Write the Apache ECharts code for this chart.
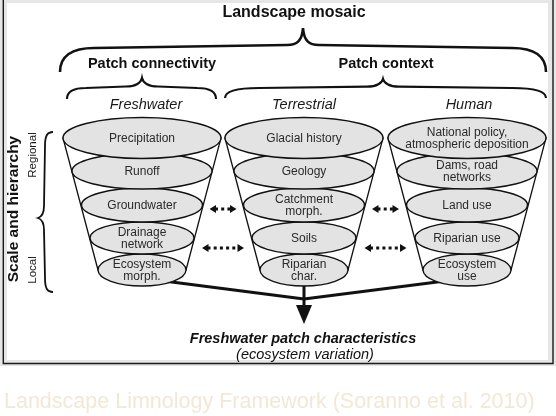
<!DOCTYPE html>
<html>
<head>
<meta charset="utf-8">
<script src="https://cdn.jsdelivr.net/npm/echarts@6/dist/echarts.min.js"></script>
<style>
html,body{margin:0;padding:0;background:#ffffff;}
#c{width:556px;height:416px;}
</style>
</head>
<body>
<div id="c"></div>
<script>
// ---------------- data ----------------
const titleText = 'Landscape mosaic';
const groupNames = ['Patch connectivity', 'Patch context'];
const groupSpans = [[0, 0], [1, 2]];
const columnNames = ['Freshwater', 'Terrestrial', 'Human'];
const freshwaterLayers = ['Precipitation', 'Runoff', 'Groundwater', 'Drainage\nnetwork', 'Ecosystem\nmorph.'];
const terrestrialLayers = ['Glacial history', 'Geology', 'Catchment\nmorph.', 'Soils', 'Riparian\nchar.'];
const humanLayers = ['National policy,\natmospheric deposition', 'Dams, road\nnetworks', 'Land use', 'Riparian use', 'Ecosystem\nuse'];
const scaleAxisLabel = 'Scale and hierarchy';
const scaleLevels = ['Regional', 'Local'];
const linkRows = [[0, 1, 2], [1, 2, 2], [0, 1, 3], [1, 2, 3]]; // from column, to column, layer row
const outcomeTitle = 'Freshwater patch characteristics';
const outcomeSubtitle = '(ecosystem variation)';
const captionText = 'Landscape Limnology Framework (Soranno et al. 2010)';

// ---------------- layout / style ----------------
const FONT = "'Liberation Sans', Arial, Helvetica, sans-serif";
const INK = '#111111';
const G = {
  coneX: [142, 304, 467],
  colLabelX: [146, 304, 469],
  colLabelY: 105,
  layerY: [138, 171, 205, 238, 270],
  layerRx: [79, 70, 60.5, 52, 44],
  layerRy: [20.5, 18, 17, 16, 16],
  mergeY: 299,
  headBase: 305,
  headTip: 324,
  rowArrowY: {2: 209, 3: 248},
  rowArrowHalf: {2: 13.5, 3: 21},
  outcomeY: [339, 355],
  braces: [
    {x1: 60, x2: 546, xa: 303, yEnd: 72, yBar: 48, yApex: 28, lx: 294, ly: 13, fs: 16, lw: 2.6},
    {x1: 67, x2: 216, xa: 142, yEnd: 99, yBar: 88, yApex: 78, lx: 152, ly: 64, fs: 14.5, lw: 2.2},
    {x1: 225, x2: 546, xa: 383, yEnd: 98, yBar: 88, yApex: 79, lx: 386, ly: 64, fs: 14.5, lw: 2.2}
  ],
  vBrace: {y1: 132, y2: 292, ya: 218, xEnd: 53, xBar: 45, xApex: 38},
  scaleLabelPos: [[33, 155], [33, 270]],
  scaleTitlePos: [14, 209]
};
const layerSets = [freshwaterLayers, terrestrialLayers, humanLayers];

const layerData = [];
columnNames.forEach(function (c, ci) {
  for (let li = layerSets[ci].length - 1; li >= 0; li--) {
    layerData.push({name: layerSets[ci][li], value: [ci, li]});
  }
});
const braceData = [{name: titleText, value: [0, 0, 2]}].concat(
  groupNames.map(function (g, i) { return {name: g, value: [i + 1, groupSpans[i][0], groupSpans[i][1]]}; })
);

function hBracePath(b, p) {
  const c = Math.min(34, (b.xa - b.x1) * 0.25);
  const yb2 = b.yBar - (b.yBar - b.yApex) * 0.15;
  const x1 = p(b.x1), x2 = p(b.x2), xa = p(b.xa);
  return 'M' + x1 + ' ' + b.yEnd +
    ' C' + x1 + ' ' + (b.yBar + (b.yEnd - b.yBar) * 0.35) + ' ' + (x1 + c * 0.35) + ' ' + b.yBar + ' ' + (x1 + c) + ' ' + b.yBar +
    ' L' + (xa - 16) + ' ' + yb2 +
    ' C' + (xa - 6) + ' ' + yb2 + ' ' + (xa - 1) + ' ' + (yb2 - 4) + ' ' + xa + ' ' + b.yApex +
    ' C' + (xa + 1) + ' ' + (yb2 - 4) + ' ' + (xa + 6) + ' ' + yb2 + ' ' + (xa + 16) + ' ' + yb2 +
    ' L' + (x2 - c) + ' ' + b.yBar +
    ' C' + (x2 - c * 0.35) + ' ' + b.yBar + ' ' + x2 + ' ' + (b.yBar + (b.yEnd - b.yBar) * 0.35) + ' ' + x2 + ' ' + b.yEnd;
}

function vBracePath(v) {
  const c = 14, xb2 = v.xBar - 1;
  return 'M' + v.xEnd + ' ' + v.y1 +
    ' C' + (v.xBar + 2) + ' ' + v.y1 + ' ' + v.xBar + ' ' + (v.y1 + 4) + ' ' + v.xBar + ' ' + (v.y1 + c) +
    ' L' + xb2 + ' ' + (v.ya - 12) +
    ' C' + xb2 + ' ' + (v.ya - 4) + ' ' + (v.xApex + 3) + ' ' + (v.ya - 1) + ' ' + v.xApex + ' ' + v.ya +
    ' C' + (v.xApex + 3) + ' ' + (v.ya + 1) + ' ' + xb2 + ' ' + (v.ya + 4) + ' ' + xb2 + ' ' + (v.ya + 12) +
    ' L' + v.xBar + ' ' + (v.y2 - c) +
    ' C' + v.xBar + ' ' + (v.y2 - 4) + ' ' + (v.xBar + 2) + ' ' + v.y2 + ' ' + v.xEnd + ' ' + v.y2;
}

function txt(x, y, text, o) {
  return {
    type: 'text', x: x, y: y, rotation: o.rotation || 0, z2: 50,
    style: {
      text: text, align: 'center', verticalAlign: 'middle',
      fontSize: o.fs, fontWeight: o.fw || 'normal', fontStyle: o.fst || 'normal',
      fontFamily: FONT, fill: o.fill || INK, lineHeight: o.lh || o.fs
    }
  };
}

const chart = echarts.init(document.getElementById('c'), null, {renderer: 'canvas'});

const option = {
  animation: false,
  title: {
    text: captionText, left: 4, top: 391, padding: 0,
    textStyle: {color: '#f2e8d6', fontSize: 21.5, fontWeight: 'normal', fontFamily: FONT}
  },
  grid: {left: 0, right: 0, top: 0, bottom: 0},
  xAxis: {type: 'value', min: 0, max: 556, show: false},
  yAxis: {type: 'value', min: 0, max: 416, inverse: true, show: false},
  graphic: [
    {type: 'rect', z: -10, shape: {x: 0, y: 0, width: 556, height: 366}, style: {fill: '#e6e6e6'}},
    {type: 'rect', z: -9, shape: {x: 7, y: 3, width: 541, height: 357}, style: {fill: '#ffffff'}},
    {type: 'polyline', z: -8, shape: {points: [[3.3, 0], [3.3, 363.5], [553, 363.5], [553, 0]]},
      style: {stroke: '#1a1a1a', lineWidth: 1.4, fill: null}}
  ],
  series: [
    // connectors to the outcome
    {
      type: 'custom', z: 3, coordinateSystem: 'cartesian2d', silent: true,
      data: columnNames.map(function (c, i) { return [i]; }),
      renderItem: function (params, api) {
        const ci = api.value(0);
        const n = G.layerY.length - 1;
        const cx = G.coneX[ci];
        const mx = G.coneX[1];
        if (ci === 1) {
          const a = api.coord([cx, G.layerY[n]]);
          const b = api.coord([cx, G.headBase + 1]);
          const hb = api.coord([cx, G.headBase]);
          const ht = api.coord([cx, G.headTip]);
          return {type: 'group', children: [
            {type: 'line', shape: {x1: a[0], y1: a[1], x2: b[0], y2: b[1]}, style: {stroke: INK, lineWidth: 3}},
            {type: 'polygon', shape: {points: [[hb[0] - 8, hb[1]], [hb[0] + 8, hb[1]], [ht[0], ht[1]]]}, style: {fill: INK}},
            txt(api.coord([mx, G.outcomeY[0]])[0] - 1, api.coord([mx, G.outcomeY[0]])[1], outcomeTitle, {fs: 14.5, fw: 'bold', fst: 'italic'}),
            txt(api.coord([mx, G.outcomeY[1]])[0] + 1, api.coord([mx, G.outcomeY[1]])[1], outcomeSubtitle, {fs: 14.5, fst: 'italic'})
          ]};
        }
        const s = api.coord([cx + (1 - ci) * 22, G.layerY[n] + 11]);
        const e = api.coord([mx, G.mergeY]);
        return {type: 'line', shape: {x1: s[0], y1: s[1], x2: e[0], y2: e[1]}, style: {stroke: INK, lineWidth: 3, lineCap: 'round'}};
      }
    },
    // cones
    {
      type: 'custom', z: 4, coordinateSystem: 'cartesian2d', silent: true,
      data: columnNames.map(function (c, i) { return {name: c, value: [i]}; }),
      renderItem: function (params, api) {
        const ci = api.value(0);
        const cx = G.coneX[ci];
        const n = G.layerY.length - 1;
        const pts = [
          [cx - G.layerRx[0], G.layerY[0]], [cx - G.layerRx[n], G.layerY[n]],
          [cx + G.layerRx[n], G.layerY[n]], [cx + G.layerRx[0], G.layerY[0]]
        ].map(function (p) { return api.coord(p); });
        return {type: 'polygon', shape: {points: pts}, style: {fill: '#ffffff', stroke: INK, lineWidth: 1.3}};
      }
    },
    // layers (ellipses)
    {
      type: 'custom', z: 5, coordinateSystem: 'cartesian2d', silent: true,
      data: layerData,
      renderItem: function (params, api) {
        const ci = api.value(0), li = api.value(1);
        const c = api.coord([G.coneX[ci], G.layerY[li]]);
        const e = api.coord([G.coneX[ci] + G.layerRx[li], G.layerY[li] + G.layerRy[li]]);
        const rx = e[0] - c[0], ry = e[1] - c[1];
        const t = txt(c[0], c[1] + 1, layerData[params.dataIndex].name, {fs: 12, lh: 12, fill: '#2a2a2a'});
        t.z2 = (6 - li) * 2 + 1;
        return {type: 'group', children: [
          {type: 'ellipse', z2: (6 - li) * 2, shape: {cx: c[0], cy: c[1], rx: rx, ry: ry},
            style: {fill: '#e3e3e3', stroke: INK, lineWidth: 1.4}},
          t
        ]};
      }
    },
    // column labels
    {
      type: 'custom', z: 7, coordinateSystem: 'cartesian2d', silent: true,
      data: columnNames.map(function (c, i) { return {name: c, value: [i]}; }),
      renderItem: function (params, api) {
        const ci = api.value(0);
        const lp = api.coord([G.colLabelX[ci], G.colLabelY]);
        return txt(lp[0], lp[1], columnNames[ci], {fs: 14.5, fst: 'italic', fill: '#1a1a1a'});
      }
    },
    // braces with headings
    {
      type: 'custom', z: 6, coordinateSystem: 'cartesian2d', silent: true,
      data: braceData,
      renderItem: function (params, api) {
        const b = G.braces[api.value(0)];
        const p = function (x) { return api.coord([x, 0])[0]; };
        const lp = api.coord([b.lx, b.ly]);
        return {type: 'group', children: [
          {type: 'path', shape: {pathData: hBracePath(b, p)}, style: {fill: null, stroke: INK, lineWidth: b.lw}},
          txt(lp[0], lp[1], braceData[params.dataIndex].name, {fs: b.fs, fw: 'bold'})
        ]};
      }
    },
    // scale & hierarchy brace
    {
      type: 'custom', z: 6, coordinateSystem: 'cartesian2d', silent: true,
      data: [[0]],
      renderItem: function (params, api) {
        const st = api.coord(G.scaleTitlePos);
        const ch = [
          {type: 'path', shape: {pathData: vBracePath(G.vBrace)}, style: {fill: null, stroke: INK, lineWidth: 1.8}},
          txt(st[0], st[1], scaleAxisLabel, {fs: 15.5, fw: 'bold', rotation: Math.PI / 2})
        ];
        scaleLevels.forEach(function (s, i) {
          const q = api.coord(G.scaleLabelPos[i]);
          ch.push(txt(q[0], q[1], s, {fs: 11.5, rotation: Math.PI / 2, fill: '#1a1a1a'}));
        });
        return {type: 'group', children: ch};
      }
    },
    // interaction arrows
    {
      type: 'custom', z: 6, coordinateSystem: 'cartesian2d', silent: true,
      data: linkRows,
      renderItem: function (params, api) {
        const a = api.value(0), b = api.value(1), r = api.value(2);
        const xm = (G.coneX[a] + G.coneX[b]) / 2;
        const h = G.rowArrowHalf[r];
        const L = api.coord([xm - h, G.rowArrowY[r]]);
        const R = api.coord([xm + h, G.rowArrowY[r]]);
        const hw = 6.5, hh = 4;
        return {type: 'group', children: [
          {type: 'line', shape: {x1: L[0] + hw - 1, y1: L[1], x2: R[0] - hw + 1, y2: R[1]},
            style: {stroke: INK, lineWidth: 3, lineDash: [3, 3.2]}},
          {type: 'polygon', shape: {points: [[L[0], L[1]], [L[0] + hw, L[1] - hh], [L[0] + hw, L[1] + hh]]}, style: {fill: INK}},
          {type: 'polygon', shape: {points: [[R[0], R[1]], [R[0] - hw, R[1] - hh], [R[0] - hw, R[1] + hh]]}, style: {fill: INK}}
        ]};
      }
    }
  ]
};
chart.setOption(option);
</script>
</body>
</html>
